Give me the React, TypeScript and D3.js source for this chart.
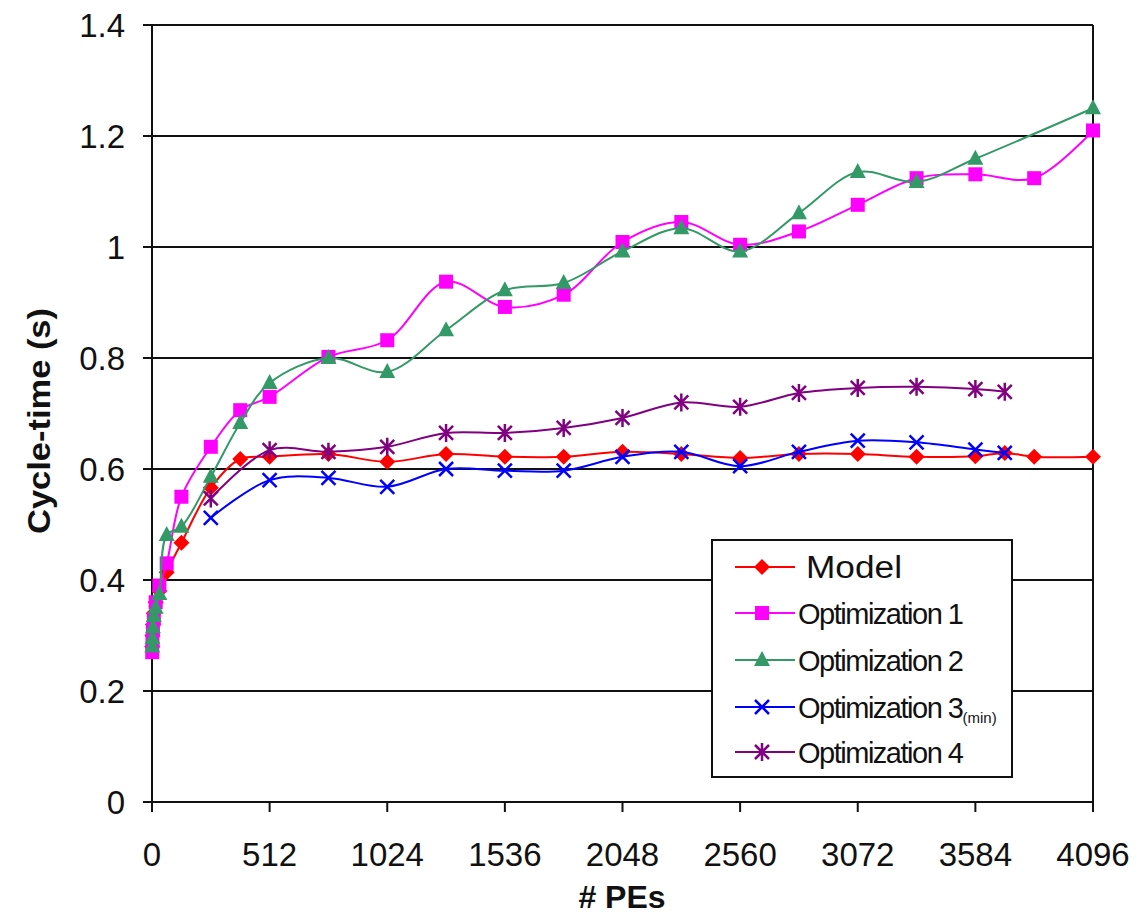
import React from 'react';
import * as d3 from 'd3';

// PE counts and cycle-times
const modelX = [1, 2, 4, 8, 16, 32, 64, 128, 256, 384, 512, 768, 1024, 1280, 1536, 1792, 2048, 2304, 2560, 2816, 3072, 3328, 3584, 3712, 3840, 4096];
const modelY = [0.28, 0.3, 0.32, 0.34, 0.36, 0.38, 0.414, 0.467, 0.566, 0.618, 0.622, 0.627, 0.613, 0.627, 0.622, 0.622, 0.631, 0.627, 0.62, 0.627, 0.627, 0.622, 0.623, 0.629, 0.622, 0.622];

const opt1X = [1, 2, 4, 8, 16, 32, 64, 128, 256, 384, 512, 768, 1024, 1280, 1536, 1792, 2048, 2304, 2560, 2816, 3072, 3328, 3584, 3840, 4096];
const opt1Y = [0.27, 0.29, 0.31, 0.33, 0.36, 0.39, 0.43, 0.55, 0.64, 0.706, 0.73, 0.802, 0.832, 0.9375, 0.892, 0.914, 1.009, 1.045, 1.004, 1.028, 1.076, 1.124, 1.131, 1.124, 1.21];

const opt2X = [1, 2, 4, 8, 16, 32, 64, 128, 256, 384, 512, 768, 1024, 1280, 1536, 1792, 2048, 2304, 2560, 2816, 3072, 3328, 3584, 4096];
const opt2Y = [0.28, 0.295, 0.315, 0.335, 0.35, 0.375, 0.481, 0.496, 0.586, 0.683, 0.755, 0.8, 0.775, 0.85, 0.922, 0.935, 0.992, 1.034, 0.992, 1.061, 1.135, 1.117, 1.159, 1.25];

const opt34X = [256, 512, 768, 1024, 1280, 1536, 1792, 2048, 2304, 2560, 2816, 3072, 3328, 3584, 3712];
const opt3Y = [0.512, 0.58, 0.584, 0.568, 0.6, 0.597, 0.597, 0.622, 0.631, 0.605, 0.631, 0.651, 0.648, 0.635, 0.629];
const opt4Y = [0.547, 0.634, 0.631, 0.64, 0.665, 0.665, 0.674, 0.692, 0.72, 0.712, 0.737, 0.746, 0.748, 0.744, 0.739];

const xTicks = [0, 512, 1024, 1536, 2048, 2560, 3072, 3584, 4096];
const yTicks = [0, 0.2, 0.4, 0.6, 0.8, 1, 1.2, 1.4];

const W = 1138;
const H = 914;
const left = 152, right = 1093, top = 25, bottom = 802;

const x = d3.scaleLinear().domain([0, 4096]).range([left, right]);
const y = d3.scaleLinear().domain([0, 1.4]).range([bottom, top]);

const line = d3.line<[number, number]>()
  .x(d => x(d[0]))
  .y(d => y(d[1]))
  .curve(d3.curveCatmullRom.alpha(0.5));

function Marker({ kind, cx, cy, color }) {
  if (kind === 'diamond') {
    const r = 8;
    return <path d={`M${cx},${cy - r}L${cx + r},${cy}L${cx},${cy + r}L${cx - r},${cy}Z`} fill={color} />;
  }
  if (kind === 'square') {
    return <rect x={cx - 7} y={cy - 7} width={14} height={14} fill={color} />;
  }
  if (kind === 'triangle') {
    return <path d={`M${cx},${cy - 9}L${cx + 8},${cy + 6}L${cx - 8},${cy + 6}Z`} fill={color} />;
  }
  if (kind === 'x') {
    const r = 7;
    return <path d={`M${cx - r},${cy - r}L${cx + r},${cy + r}M${cx - r},${cy + r}L${cx + r},${cy - r}`} stroke={color} strokeWidth={2.5} />;
  }
  // star: x plus vertical bar
  const r = 7;
  return (
    <path
      d={`M${cx - r},${cy - r}L${cx + r},${cy + r}M${cx - r},${cy + r}L${cx + r},${cy - r}M${cx},${cy - r - 2}L${cx},${cy + r + 2}`}
      stroke={color}
      strokeWidth={2.5}
    />
  );
}

const series = [
  { name: 'Model', xs: modelX, ys: modelY, color: '#ff0000', kind: 'diamond' },
  { name: 'Optimization 1', xs: opt1X, ys: opt1Y, color: '#ff00ff', kind: 'square' },
  { name: 'Optimization 2', xs: opt2X, ys: opt2Y, color: '#339966', kind: 'triangle' },
  { name: 'Optimization 3', xs: opt34X, ys: opt3Y, color: '#0000ff', kind: 'x' },
  { name: 'Optimization 4', xs: opt34X, ys: opt4Y, color: '#800080', kind: 'star' },
];

export default function App() {
  const font = 'Liberation Sans, Arial, sans-serif';
  const legendRows = [567, 613, 660, 707, 752];
  return (
    <svg width={W} height={H} style={{ position: 'absolute', left: 0, top: 0, background: '#fff' }}>
      <rect width={W} height={H} fill="#fff" />
      {/* gridlines */}
      {yTicks.map(t => (
        <line key={t} x1={left - 9} x2={right} y1={y(t)} y2={y(t)} stroke="#111" strokeWidth={2} />
      ))}
      <line x1={left} x2={left} y1={top} y2={bottom} stroke="#111" strokeWidth={2} />
      <line x1={right} x2={right} y1={top} y2={bottom + 10} stroke="#111" strokeWidth={2} />
      {xTicks.map(t => (
        <line key={t} x1={x(t)} x2={x(t)} y1={bottom} y2={bottom + 10} stroke="#111" strokeWidth={2} />
      ))}
      {/* tick labels */}
      {yTicks.map(t => (
        <text key={t} x={125} y={y(t) + 12} textAnchor="end" fontFamily={font} fontSize={33} fill="#111">
          {d3.format('~g')(t)}
        </text>
      ))}
      {xTicks.map(t => (
        <text key={t} x={x(t)} y={866} textAnchor="middle" fontFamily={font} fontSize={33} fill="#111">
          {t}
        </text>
      ))}
      <text x={622} y={908} textAnchor="middle" fontFamily={font} fontWeight="bold" fontSize={32} fill="#111">
        # PEs
      </text>
      <text
        transform="translate(50,421) rotate(-90)"
        textAnchor="middle"
        fontFamily={font}
        fontWeight="bold"
        fontSize={32}
        fill="#111"
        textLength={226}
        lengthAdjust="spacingAndGlyphs"
      >
        Cycle-time (s)
      </text>
      {/* series */}
      {series.map(s => {
        const pts = s.xs.map((v, i) => [v, s.ys[i]] as [number, number]);
        return (
          <g key={s.name}>
            <path d={line(pts) || ''} fill="none" stroke={s.color} strokeWidth={2} />
            {pts.map((p, i) => (
              <Marker key={i} kind={s.kind} cx={x(p[0])} cy={y(p[1])} color={s.color} />
            ))}
          </g>
        );
      })}
      {/* legend */}
      <rect x={712} y={540} width={300} height={237} fill="#fff" stroke="#111" strokeWidth={2} />
      {series.map((s, i) => (
        <g key={s.name}>
          <line x1={735} x2={795} y1={legendRows[i]} y2={legendRows[i]} stroke={s.color} strokeWidth={2} />
          <Marker kind={s.kind} cx={762} cy={legendRows[i]} color={s.color} />
          {i === 0 ? (
            <text x={806} y={legendRows[i] + 11} fontFamily={font} fontSize={31} fill="#111" textLength={96} lengthAdjust="spacingAndGlyphs">
              Model
            </text>
          ) : (
            <text x={798} y={legendRows[i] + 11} fontFamily={font} fontSize={29} fill="#111">
              <tspan textLength={166} lengthAdjust="spacing">{s.name}</tspan>
              {i === 3 ? <tspan fontSize={15} dy={5}>(min)</tspan> : null}
            </text>
          )}
        </g>
      ))}
    </svg>
  );
}
